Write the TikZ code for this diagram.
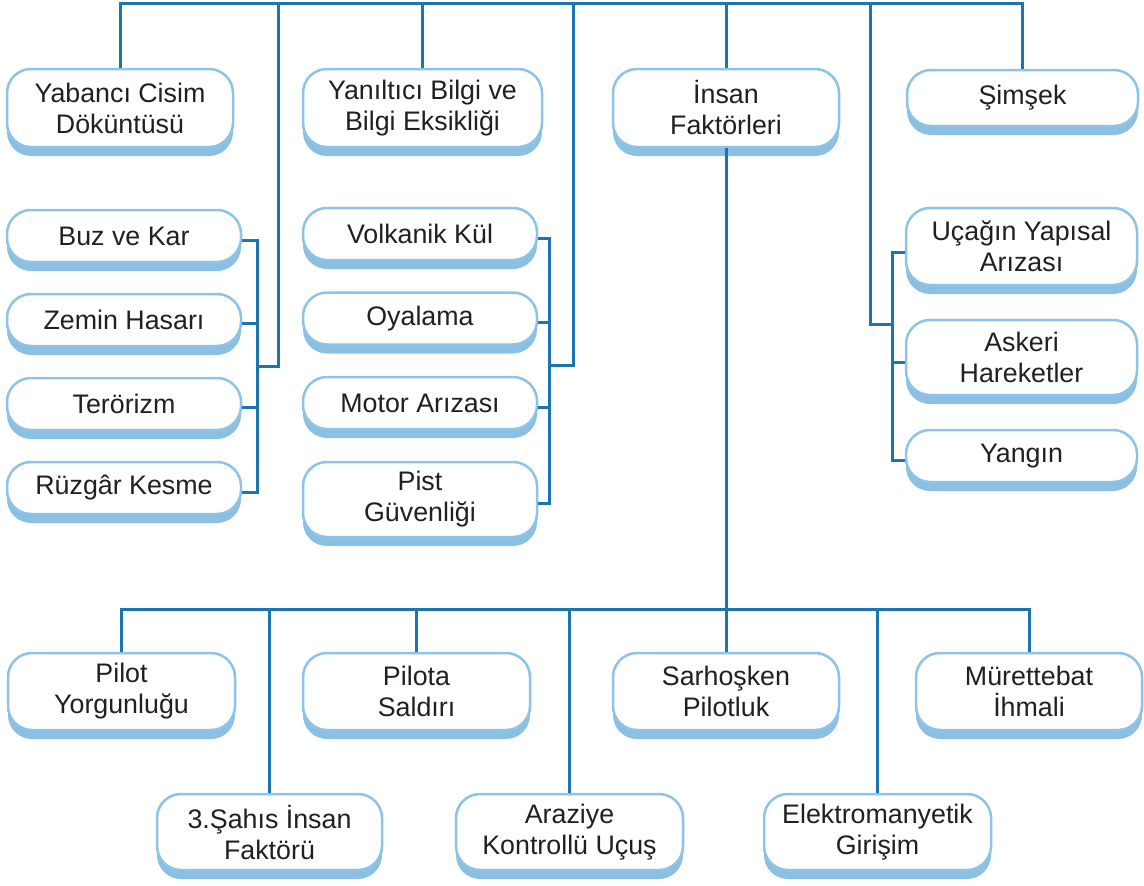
\documentclass[tikz,border=0pt]{standalone}
\usepackage{fontspec}
\setmainfont{Liberation Sans}
\usetikzlibrary{shadows}
\definecolor{linec}{HTML}{1B75AE}
\definecolor{boxc}{HTML}{8CC3E6}
\definecolor{shadc}{HTML}{8BC0E2}
\definecolor{txtc}{HTML}{231F20}
\tikzset{
  box/.style={draw=boxc, line width=2.5pt, fill=white, rounded corners=24pt,
    align=center, text=txtc, font=\fontsize{26.8}{31}\selectfont, inner sep=2pt,
    general shadow={fill=shadc, shadow yshift=-9pt}},
  conn/.style={draw=linec, line width=3pt, line join=miter}
}
\begin{document}
\begin{tikzpicture}[x=1pt,y=-1pt]
\useasboundingbox (0,0) rectangle (1144,886);
% top row
\node[box, minimum width=226pt, minimum height=78pt] (yab) at (120,108) {Yabancı Cisim\\Döküntüsü};
\node[box, minimum width=239pt, minimum height=78pt] (yan) at (422.5,108) {Yanıltıcı Bilgi ve\\Bilgi Eksikliği};
\node[box, minimum width=226pt, minimum height=78pt] (ins) at (726,108) {İnsan\\Faktörleri};
\node[box, minimum width=231pt, minimum height=56pt] (sim) at (1022.5,98) {Şimşek};
% left column
\node[box, minimum width=234pt, minimum height=52pt] (buz) at (124,236) {Buz ve Kar};
\node[box, minimum width=234pt, minimum height=52pt] (zem) at (124,320) {Zemin Hasarı};
\node[box, minimum width=234pt, minimum height=52pt] (ter) at (124,404) {Terörizm};
\node[box, minimum width=234pt, minimum height=52pt] (ruz) at (124,488) {Rüzgâr Kesme};
% middle column
\node[box, minimum width=234pt, minimum height=52pt] (vol) at (420,234) {Volkanik Kül};
\node[box, minimum width=234pt, minimum height=52pt] (oya) at (420,318.5) {Oyalama};
\node[box, minimum width=234pt, minimum height=52pt] (mot) at (420,403) {Motor Arızası};
\node[box, minimum width=234pt, minimum height=75pt] (pis) at (420,499.5) {Pist\\Güvenliği};
% right column
\node[box, minimum width=231pt, minimum height=77pt] (uca) at (1021.5,246.5) {Uçağın Yapısal\\Arızası};
\node[box, minimum width=231pt, minimum height=75pt] (ask) at (1021.5,357.5) {Askeri\\Hareketler};
\node[box, minimum width=231pt, minimum height=52pt] (yng) at (1021.5,456) {Yangın};
% bottom row 1
\node[box, minimum width=227pt, minimum height=77pt] (pil) at (121.5,691.5) {Pilot\\Yorgunluğu};
\node[box, minimum width=227pt, minimum height=77pt] (pia) at (416.5,691.5) {Pilota\\Saldırı};
\node[box, minimum width=226pt, minimum height=77pt] (sar) at (726,691.5) {Sarhoşken\\Pilotluk};
\node[box, minimum width=226pt, minimum height=77pt] (mur) at (1029,691.5) {Mürettebat\\İhmali};
% bottom row 2
\node[box, minimum width=225pt, minimum height=76pt] (sah) at (269.5,832) {3.Şahıs İnsan\\Faktörü};
\node[box, minimum width=227pt, minimum height=76pt] (ara) at (569.5,832) {Araziye\\Kontrollü Uçuş};
\node[box, minimum width=227pt, minimum height=76pt] (ele) at (877.5,832) {Elektromanyetik\\Girişim};
% coordinates
\coordinate (bus) at (0,3);
\coordinate (lbr) at (257,0);
\coordinate (mbr) at (549,0);
\coordinate (rbr) at (892,0);
\coordinate (ljoin) at (278,366);
\coordinate (mjoin) at (573,365);
\coordinate (rjoin) at (870,324);
\coordinate (bbus) at (0,609);
% top bus
\draw[conn] (yab.north) |- (sim.north |- bus) -- (sim.north);
\draw[conn] (yan.north) -- (yan.north |- bus);
\draw[conn] (ins.north) -- (ins.north |- bus);
\draw[conn] (ljoin |- bus) -- (ljoin) -- (lbr |- ljoin);
\draw[conn] (mjoin |- bus) -- (mjoin) -- (mbr |- mjoin);
\draw[conn] (rjoin |- bus) -- (rjoin) -- (rbr |- rjoin);
% left bracket
\coordinate (lb1) at ([yshift=-4pt]buz.east);
\coordinate (lb2) at ([yshift=-3pt]zem.east);
\coordinate (lb3) at ([yshift=-3pt]ter.east);
\coordinate (lb4) at ([yshift=-4pt]ruz.east);
\draw[conn] (lb1) -| (lbr |- lb4) -- (lb4);
\draw[conn] (lb2) -- (lb2 -| lbr);
\draw[conn] (lb3) -- (lb3 -| lbr);
% middle bracket
\coordinate (mb1) at ([yshift=-4pt]vol.east);
\coordinate (mb2) at ([yshift=-4pt]oya.east);
\coordinate (mb3) at ([yshift=-4pt]mot.east);
\coordinate (mb4) at ([yshift=-4pt]pis.east);
\draw[conn] (mb1) -| (mbr |- mb4) -- (mb4);
\draw[conn] (mb2) -- (mb2 -| mbr);
\draw[conn] (mb3) -- (mb3 -| mbr);
% right bracket
\coordinate (rb1) at ([yshift=-6pt]uca.west);
\coordinate (rb2) at ([yshift=-5pt]ask.west);
\coordinate (rb3) at ([yshift=-4pt]yng.west);
\draw[conn] (rb1) -| (rbr |- rb3) -- (rb3);
\draw[conn] (rb2) -- (rb2 -| rbr);
% bottom tree
\draw[conn] (ins.south) -- (sar.north);
\draw[conn] (pil.north) |- (mur.north |- bbus) -- (mur.north);
\draw[conn] (sah.north) -- (sah.north |- bbus);
\draw[conn] (pia.north) -- (pia.north |- bbus);
\draw[conn] (ara.north) -- (ara.north |- bbus);
\draw[conn] (ele.north) -- (ele.north |- bbus);
\end{tikzpicture}
\end{document}
